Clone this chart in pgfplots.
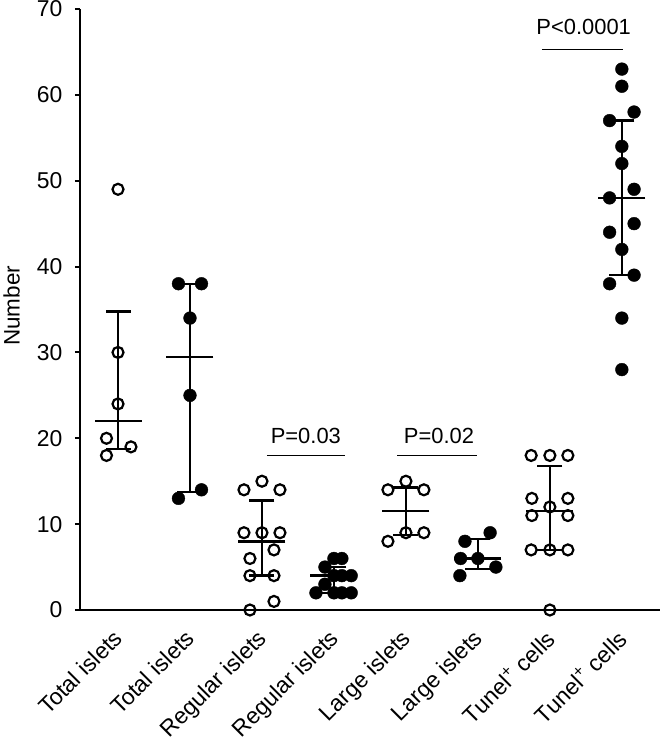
\documentclass[border=0pt]{standalone}
\usepackage{fontspec}
\setmainfont{Liberation Sans}
\usepackage{pgfplots}
\pgfplotsset{compat=1.18}
\usepackage{pgfplotstable}

% open-circle groups
\pgfplotstableread{
x y
0 49
0 30
0 24
-0.16 20
-0.16 18
0.18 19
2 15
1.75 14
2.25 14
1.75 9
2 9
2.25 9
2.167 7
1.833 6
1.833 4
2.167 4
2.167 1
1.833 0
4 15
3.75 14
4.25 14
4 9
4.25 9
3.75 8
5.74 18
6 18
6.25 18
5.75 13
6.25 13
6 12
5.75 11
6.25 11
5.74 7
6 7
6.25 7
6 0
}\openpts

% filled-circle groups
\pgfplotstableread{
x y
0.84 38
1.16 38
1 34
1 25
1.16 14
0.84 13
3 6
3.11 6
2.875 5
3 4
3.11 4
3.24 4
2.875 3
2.75 2
3 2
3.11 2
3.24 2
5.17 9
4.82 8
4.76 6
5 6
5.25 5
4.75 4
7 63
7 61
7.17 58
6.83 57
7 54
7 52
7.17 49
6.83 48
7.17 45
6.83 44
7 42
7.17 39
6.83 38
7 34
7 28
}\filledpts

% median and interquartile range
\pgfplotstableread{
x med lo hi
0 22 18.75 34.75
1 29.5 13.75 38
2 8 4 12.75
3 4 2 5
4 11.5 8.75 14.25
5 6 4.75 8.25
6 11.5 7 16.75
7 48 39 57
}\summary

\begin{document}
\begin{tikzpicture}
\begin{axis}[
  at={(0,0)}, anchor=south west,
  scale only axis,
  width=580bp, height=601bp,
  xmin=-0.528, xmax=7.53,
  ymin=0, ymax=70,
  clip=false,
  axis x line*=bottom, axis y line*=left,
  axis line style={line width=2.4bp, -},
  ytick={0,10,...,70},
  tick align=outside,
  ytick style={line width=2bp, black},
  major tick length=5bp,
  xtick={0,1,2,3,4,5,6,7},
  xtick style={draw=none},
  xticklabels={Total islets, Total islets, Regular islets, Regular islets, Large islets, Large islets, Tunel\textsuperscript{+} cells, Tunel\textsuperscript{+} cells},
  /pgf/number format/assume math mode=true,
  yticklabel style={font=\fontsize{23}{27}\selectfont, inner sep=0pt, xshift=-12.5bp},
  xticklabel style={font=\fontsize{23}{27}\selectfont, xshift=-6bp, yshift=-13bp, rotate=45, anchor=north east, inner sep=0pt},
  ylabel={Number},
  every axis y label/.style={at={(axis description cs:-0.1178,0.506)}, rotate=90, anchor=center, font=\fontsize{22.5}{26}\selectfont},
]
% whiskers (IQR)
\addplot[draw=none, mark=none, forget plot,
  error bars/.cd, y dir=both, y explicit, error mark=none,
  error bar style={line width=2.4bp, black}]
  table[x=x, y=med, y error plus expr=\thisrow{hi}-\thisrow{med}, y error minus expr=\thisrow{med}-\thisrow{lo}] {\summary};
% caps
\addplot[only marks, mark=-, mark size=12.5bp, mark options={line width=2.4bp, black}] table[x=x, y=hi] {\summary};
\addplot[only marks, mark=-, mark size=12.5bp, mark options={line width=2.4bp, black}] table[x=x, y=lo] {\summary};
% medians
\addplot[only marks, mark=-, mark size=23.5bp, mark options={line width=2.4bp, black}] table[x=x, y=med] {\summary};
% points
\addplot[only marks, mark=o, mark size=5.5bp, mark options={line width=2.2bp, draw=black, fill=none}] table[x=x, y=y] {\openpts};
\addplot[only marks, mark=*, mark size=6.4bp, mark options={draw=none, fill=black}] table[x=x, y=y] {\filledpts};
% significance lines
\addplot[line width=1.3bp, black, mark=none] coordinates {(2.07,18) (3.16,18)};
\addplot[line width=1.3bp, black, mark=none] coordinates {(3.88,18) (4.99,18)};
\addplot[line width=1.3bp, black, mark=none] coordinates {(5.89,65.3) (7.02,65.3)};
\node[anchor=base, font=\fontsize{22}{26}\selectfont, inner sep=0pt] at (axis cs:2.61,19.4) {P=0.03};
\node[anchor=base, font=\fontsize{22}{26}\selectfont, inner sep=0pt] at (axis cs:4.46,19.45) {P=0.02};
\node[anchor=base, font=\fontsize{22}{26}\selectfont, inner sep=0pt] at (axis cs:6.47,67.0) {P<0.0001};
\end{axis}
\pgfresetboundingbox
\path[use as bounding box] (-80bp,-130bp) rectangle (580bp,610bp);
\end{tikzpicture}
\end{document}
